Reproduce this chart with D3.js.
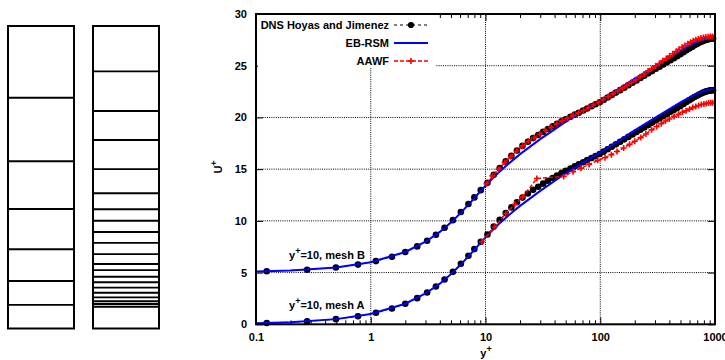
<!DOCTYPE html>
<html><head><meta charset="utf-8">
<script src="https://cdn.jsdelivr.net/npm/d3@7"></script>
<style>
body{margin:0;background:#fff;}
svg text{font-family:"Liberation Sans",Arial,Helvetica,sans-serif;font-weight:bold;font-size:11px;fill:#000;}
</style></head>
<body><svg id="c" width="725" height="360"></svg>
<script>
// ---- Mesh sketches: cell boundaries as fraction of height from the wall ----
const meshA = [0.763, 0.553, 0.395, 0.262, 0.157, 0.078];
const meshB = [0.850, 0.719, 0.623, 0.527, 0.447, 0.394, 0.356, 0.319, 0.283, 0.246,
               0.213, 0.193, 0.171, 0.153, 0.135, 0.118, 0.103, 0.090, 0.081, 0.072];

// ---- DNS Hoyas and Jimenez: y+ and U+ ----
const dnsY = [0.124,0.279,0.497,0.774,1.11,1.53,2.0,2.54,3.1,3.7,4.4,5.2,6.1,7.1,8.0,9.1,10.4,11.8,13.3,15.0,
  16.8,18.8,21.0,23.4,26.0,28.8,31.8,35,38.5,42,46,50,55,60,65,71,77,84,91,99,
  107,116,126,137,149,162,176,191,207,224,242,262,283,305,329,354,381,409,438,468,
  499,531,564,597,630,663,696,728,759,789,818,845,870,893,914,932,948,961];
const dnsU = [0.124,0.279,0.497,0.773,1.11,1.53,1.99,2.53,3.08,3.66,4.33,5.07,5.85,6.63,7.27,7.97,8.68,9.45,10.1,10.75,
  11.3,11.8,12.25,12.65,13.0,13.3,13.6,13.88,14.15,14.38,14.62,14.83,15.06,15.27,15.46,15.67,15.87,16.08,16.27,16.47,
  16.69,16.92,17.16,17.40,17.64,17.88,18.12,18.35,18.58,18.81,19.03,19.26,19.48,19.70,19.91,20.12,20.33,20.54,20.73,20.92,
  21.11,21.30,21.49,21.66,21.82,21.97,22.10,22.22,22.32,22.40,22.47,22.52,22.56,22.59,22.61,22.62,22.63,22.63];

// ---- EB-RSM ----
const rsmY = [0.1,0.2,0.5,1,2,3,4,5,6,7,8,9,10,12,14,17,20,25,30,40,50,70,100,150,200,300,400,500,600,700,800,900,960];
const rsmU = [0.1,0.2,0.5,1.0,1.99,2.98,3.93,4.85,5.7,6.5,7.2,7.85,8.4,9.3,10.0,10.8,11.45,12.25,12.9,13.85,14.6,15.6,16.6,17.85,18.75,19.95,20.8,21.45,21.95,22.3,22.55,22.7,22.75];

// ---- AAWF, mesh A (coarse) ----
const aawfAY = [9.3,12,15,18,21,28,48,58,68,80,95,110,125,140,160,180,200,225,250,280,310,340,370,400,440,480,520,560,600,640,680,720,760,800,840,880,920,955];
const aawfAU = [7.99,9.4,10.7,11.6,12.3,14.1,14.3,14.75,15.1,15.45,15.85,16.1,16.4,16.7,17.05,17.4,17.7,18.05,18.4,18.8,19.1,19.4,19.65,19.85,20.1,20.3,20.5,20.65,20.8,20.95,21.05,21.15,21.25,21.3,21.35,21.4,21.42,21.43];

// ---- AAWF, mesh B (fine) ----
const aawfBY = [10.2,11.5,13,14.7,16.6,18.7,21,23.6,26.5,29.7,33.3,37.3,41.7,46.6,52,58,64.5,71.5,79,87,96,
  106,117,129,142,156,171,187,204,222,241,261,282,304,327,351,376,402,429,457,486,516,547,579,612,646,681,717,754,792,831,871,912,950];
const aawfBU = [8.6,9.35,10.0,10.65,11.2,11.75,12.25,12.7,13.05,13.4,13.75,14.05,14.4,14.7,14.95,15.2,15.45,15.7,15.95,16.2,16.45,
  16.72,17.0,17.28,17.55,17.83,18.1,18.38,18.65,18.93,19.2,19.48,19.73,19.98,20.22,20.47,20.7,20.93,21.15,21.37,21.58,21.78,21.96,22.13,22.28,22.41,22.52,22.6,22.67,22.73,22.77,22.8,22.82,22.83];

const offsetB = 5;   // mesh B curves shifted up by 5 for clarity
const xTicks = [0.1, 1, 10, 100, 1000];
const xTickLabels = ["0.1", "1", "10", "100", "1000"];
const yTicks = [0, 5, 10, 15, 20, 25, 30];
const legendLabels = ["DNS Hoyas and Jimenez", "EB-RSM", "AAWF"];

const svg = d3.select("#c");

// ---------------- Mesh sketches ----------------
const mY = d3.scaleLinear().domain([0, 1]).range([328.5, 26]);
function drawMesh(x0, x1, lines) {
  const g = svg.append("g");
  g.selectAll("line").data(lines).join("line")
    .attr("x1", x0).attr("x2", x1).attr("y1", d => mY(d)).attr("y2", d => mY(d))
    .attr("stroke", "#000").attr("stroke-width", 1.9);
  g.append("rect").attr("x", x0).attr("y", mY(1)).attr("width", x1 - x0).attr("height", mY(0) - mY(1))
    .attr("fill", "none").attr("stroke", "#000").attr("stroke-width", 2);
}
drawMesh(8, 74, meshA);
drawMesh(93, 159, meshB);

// ---------------- Plot ----------------
const x = d3.scaleLog().domain([0.1, 1000]).range([256, 715]);
const y = d3.scaleLinear().domain([0, 30]).range([324.3, 14]);

// grid
const grid = svg.append("g").attr("stroke", "#000").attr("stroke-width", 1).attr("stroke-dasharray", "1,1.2");
grid.selectAll(".gx").data(xTicks.slice(1, -1)).join("line")
  .attr("x1", d => x(d)).attr("x2", d => x(d)).attr("y1", y(0)).attr("y2", y(30));
grid.selectAll(".gy").data(yTicks.slice(1, -1)).join("line")
  .attr("x1", x(0.1)).attr("x2", x(1000)).attr("y1", d => y(d)).attr("y2", d => y(d));

// axes
const minor = x.ticks().filter(v => !xTicks.includes(v));
svg.append("g").attr("transform", `translate(0,${y(0)})`)
  .call(d3.axisBottom(x).tickValues(xTicks).tickFormat((d, i) => xTickLabels[i]).tickSizeInner(-7).tickSizeOuter(0).tickPadding(9));
svg.append("g").attr("transform", `translate(0,${y(0)})`)
  .call(d3.axisBottom(x).tickValues(minor).tickFormat("").tickSizeInner(-4).tickSizeOuter(0));
svg.append("g").attr("transform", `translate(0,${y(30)})`)
  .call(d3.axisTop(x).tickValues(xTicks).tickFormat("").tickSizeInner(-7).tickSizeOuter(0));
svg.append("g").attr("transform", `translate(0,${y(30)})`)
  .call(d3.axisTop(x).tickValues(minor).tickFormat("").tickSizeInner(-4).tickSizeOuter(0));
svg.append("g").attr("transform", `translate(${x(0.1)},0)`)
  .call(d3.axisLeft(y).tickValues(yTicks).tickSizeInner(-7).tickSizeOuter(0).tickPadding(9));
svg.append("g").attr("transform", `translate(${x(1000)},0)`)
  .call(d3.axisRight(y).tickValues(yTicks).tickFormat("").tickSizeInner(-7).tickSizeOuter(0));
svg.selectAll(".domain").remove();
svg.selectAll(".tick line").attr("stroke", "#000").attr("stroke-width", 1);
svg.selectAll(".tick text").attr("font-size", 11).attr("font-family", null);

// curves
const line = d3.line().x(d => x(d[0])).y(d => y(d[1]));
const plot = svg.append("g");
function series(ys, us, off) { return ys.map((v, i) => [v, us[i] + off]); }

function drawDNS(data) {
  plot.append("path").attr("d", line(data)).attr("fill", "none").attr("stroke", "#000")
    .attr("stroke-width", 1).attr("stroke-dasharray", "3,3");
  plot.append("g").selectAll("circle").data(data).join("circle")
    .attr("cx", d => x(d[0])).attr("cy", d => y(d[1])).attr("r", 3.3).attr("fill", "#000");
}
function drawRSM(data) {
  plot.append("path").attr("d", line(data)).attr("fill", "none").attr("stroke", "#0000ff").attr("stroke-width", 2);
}
function plus(g, cx, cy, s) {
  g.append("path").attr("d", `M${cx - s},${cy}H${cx + s}M${cx},${cy - s}V${cy + s}`)
    .attr("stroke", "#ff0000").attr("stroke-width", 1.6).attr("fill", "none");
}
function drawAAWF(data) {
  plot.append("path").attr("d", line(data)).attr("fill", "none").attr("stroke", "#ff0000")
    .attr("stroke-width", 1.5).attr("stroke-dasharray", "4,2");
  const g = plot.append("g");
  data.forEach(d => plus(g, x(d[0]), y(d[1]), 3));
}
drawDNS(series(dnsY, dnsU, offsetB));
drawRSM(series(rsmY, rsmU, offsetB));
drawAAWF(series(aawfBY, aawfBU, offsetB));
drawDNS(series(dnsY, dnsU, 0));
drawRSM(series(rsmY, rsmU, 0));
drawAAWF(series(aawfAY, aawfAU, 0));

// frame
svg.append("rect").attr("x", x(0.1)).attr("y", y(30)).attr("width", x(1000) - x(0.1)).attr("height", y(0) - y(30))
  .attr("fill", "none").attr("stroke", "#000").attr("stroke-width", 2);

// legend
const lg = svg.append("g");
lg.append("rect").attr("x", 258).attr("y", 15).attr("width", 178).attr("height", 53).attr("fill", "#fff");
const ly = [25, 43, 61];
lg.selectAll("text").data(legendLabels).join("text")
  .attr("x", 389).attr("y", (d, i) => ly[i]).attr("dy", "0.35em").attr("text-anchor", "end").text(d => d);
lg.append("line").attr("x1", 394).attr("x2", 428).attr("y1", ly[0]).attr("y2", ly[0])
  .attr("stroke", "#000").attr("stroke-width", 1).attr("stroke-dasharray", "3,3");
lg.append("circle").attr("cx", 411).attr("cy", ly[0]).attr("r", 3.1).attr("fill", "#000");
lg.append("line").attr("x1", 394).attr("x2", 428).attr("y1", ly[1]).attr("y2", ly[1])
  .attr("stroke", "#0000ff").attr("stroke-width", 2);
lg.append("line").attr("x1", 394).attr("x2", 428).attr("y1", ly[2]).attr("y2", ly[2])
  .attr("stroke", "#ff0000").attr("stroke-width", 1.5).attr("stroke-dasharray", "4,2");
plus(lg, 411, ly[2], 3);

// annotations
function supLabel(px, py, base, sup, rest, rotate) {
  const t = svg.append("text").attr("x", px).attr("y", py);
  if (rotate) t.attr("transform", `rotate(-90,${px},${py})`).attr("text-anchor", "middle");
  t.append("tspan").text(base);
  t.append("tspan").attr("dy", -5).attr("font-size", 9).text(sup);
  if (rest) t.append("tspan").attr("dy", 5).text(rest);
  return t;
}
supLabel(289, 259, "y", "+", "=10, mesh B");
supLabel(289, 309, "y", "+", "=10, mesh A");
supLabel(486, 357, "y", "+", null).attr("text-anchor", "middle").attr("font-size", 12);
supLabel(222, 167, "U", "+", null, true).attr("font-size", 12);
</script></body></html>
